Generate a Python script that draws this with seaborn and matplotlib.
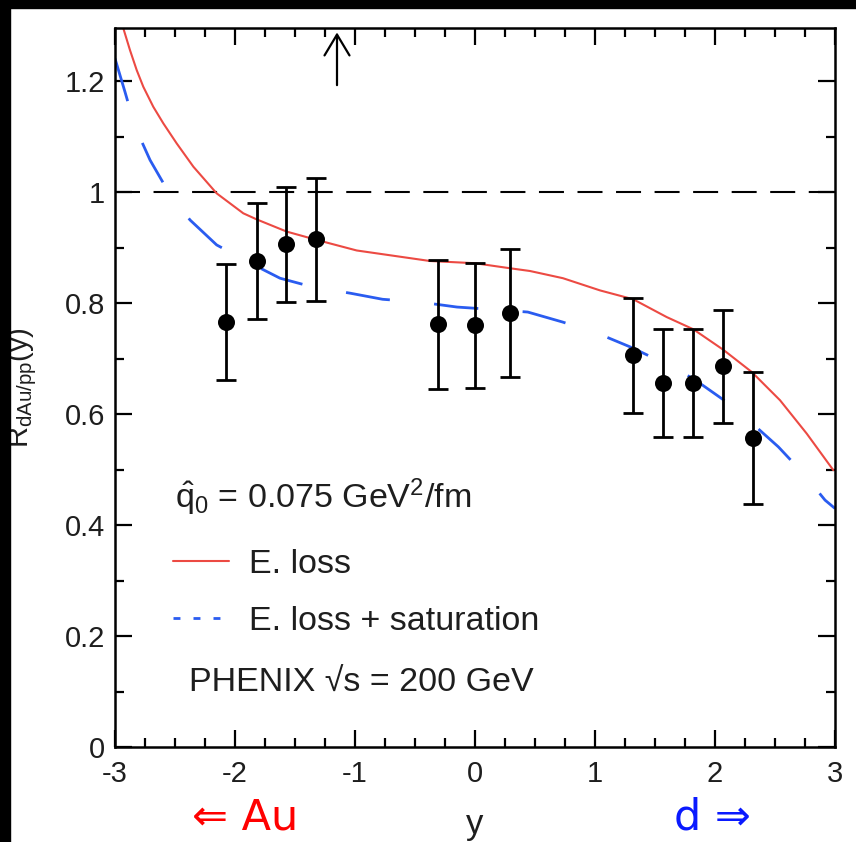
import numpy as np
import pandas as pd
import matplotlib
matplotlib.use("Agg")
import matplotlib.pyplot as plt
from matplotlib.lines import Line2D
from matplotlib.patches import Rectangle
import seaborn as sns

# ---- data ----
data_y = [-2.075, -1.817, -1.575, -1.325, -0.308, 0.0, 0.292, 1.317, 1.567, 1.817, 2.067, 2.317]
data_R = [0.766, 0.876, 0.906, 0.915, 0.762, 0.760, 0.782, 0.706, 0.656, 0.656, 0.686, 0.557]
data_err = [0.105, 0.105, 0.104, 0.111, 0.116, 0.112, 0.115, 0.104, 0.097, 0.097, 0.102, 0.119]

eloss_y = [-2.93, -2.875, -2.819, -2.764, -2.681, -2.597, -2.486, -2.347, -2.153, -1.931, -1.819,
           -1.569, -1.319, -0.986, -0.375, 0.0, 0.29, 0.458, 0.733, 1.042, 1.319, 1.597, 1.819,
           2.069, 2.306, 2.542, 2.764, 2.986]
eloss_R = [1.295, 1.256, 1.220, 1.190, 1.154, 1.124, 1.088, 1.046, 0.998, 0.962, 0.951,
           0.929, 0.914, 0.895, 0.876, 0.872, 0.863, 0.858, 0.845, 0.823, 0.807, 0.775, 0.753,
           0.716, 0.676, 0.625, 0.565, 0.499]

sat_y = [-3.0, -2.917, -2.833, -2.708, -2.556, -2.375, -2.153, -1.889, -1.625, -1.35, -1.04, -0.77,
         -0.46, -0.15, 0.125, 0.44, 0.73, 1.017, 1.306, 1.556, 1.819, 2.069, 2.306, 2.528, 2.736,
         2.917, 3.0]
sat_R = [1.241, 1.181, 1.118, 1.058, 1.001, 0.950, 0.905, 0.874, 0.845, 0.829, 0.818, 0.807,
         0.802, 0.793, 0.789, 0.784, 0.766, 0.746, 0.720, 0.694, 0.664, 0.626, 0.584, 0.541, 0.493,
         0.445, 0.43]

ref_level = 1.0
arrow_x = -1.15
arrow_from, arrow_to = 1.193, 1.288

x_ticks = [-3, -2, -1, 0, 1, 2, 3]
y_ticks = [0, 0.2, 0.4, 0.6, 0.8, 1.0, 1.2]
y_tick_labels = ["0", "0.2", "0.4", "0.6", "0.8", "1", "1.2"]

label_eloss = "E. loss"
label_sat = "E. loss + saturation"

# ---- style ----
sns.set_theme(style="ticks")
plt.rcParams["font.family"] = ["Liberation Sans", "DejaVu Sans"]
plt.rcParams["mathtext.fontset"] = "custom"
plt.rcParams["mathtext.rm"] = "Liberation Sans"
plt.rcParams["mathtext.it"] = "Liberation Sans:italic"
plt.rcParams["mathtext.bf"] = "Liberation Sans:bold"

TXT = "#1e1e1e"
RED = "#ec4a43"
BLUE = "#2a5cf0"

fig = plt.figure(figsize=(8.56, 8.42), dpi=100)
fig.patch.set_facecolor("white")
# black strips of the reference screenshot
fig.patches.append(Rectangle((0, 0), 10 / 856, 1, transform=fig.transFigure, color="black", zorder=0))
fig.patches.append(Rectangle((0, 1 - 8 / 842), 1, 8 / 842, transform=fig.transFigure, color="black", zorder=0))

ax = fig.add_axes([115 / 856, 1 - 747 / 842, 720 / 856, 719 / 842])
ax.set_facecolor("white")

df_e = pd.DataFrame({"y": eloss_y, "R": eloss_R})
df_s = pd.DataFrame({"y": sat_y, "R": sat_R})
df_d = pd.DataFrame({"y": data_y, "R": data_R, "err": data_err})

ax.axhline(ref_level, color="black", lw=1.5, dashes=(12, 6.5), zorder=1)

sns.lineplot(data=df_e, x="y", y="R", sort=False, estimator=None, color=RED, lw=1.5, ax=ax, zorder=2)
sns.lineplot(data=df_s, x="y", y="R", sort=False, estimator=None, color=BLUE, lw=2.0,
             dashes=False, ax=ax, zorder=2)
ax.lines[-1].set_dashes((16, 16))
ax.lines[-1].set_solid_capstyle("butt")

ax.errorbar(df_d["y"], df_d["R"], yerr=df_d["err"], fmt="none", ecolor="black",
            elinewidth=2, capsize=7.5, capthick=2, zorder=3)
sns.scatterplot(data=df_d, x="y", y="R", color="black", s=150, edgecolor="black", linewidth=0,
                ax=ax, zorder=4)

ax.annotate("", xy=(arrow_x, arrow_to), xytext=(arrow_x, arrow_from),
            arrowprops=dict(arrowstyle="->,head_length=0.5,head_width=0.3", lw=1.6, color="black",
                            mutation_scale=30, shrinkA=0, shrinkB=0))

ax.set_xlim(-3, 3)
ax.set_ylim(0, 1.296)
ax.set_xticks(x_ticks)
ax.set_xticklabels([str(t) for t in x_ticks])
ax.set_yticks(y_ticks)
ax.set_yticklabels(y_tick_labels)
ax.set_xticks(np.arange(-3, 3.01, 0.25), minor=True)
ax.set_yticks(np.arange(0, 1.3, 0.1), minor=True)
ax.tick_params(which="both", direction="in", top=True, right=True, colors="black",
               labelcolor=TXT, labelsize=21, width=1.6)
ax.tick_params(which="major", length=12)
ax.tick_params(which="minor", length=6.5)
ax.tick_params(axis="y", pad=7)
ax.tick_params(axis="x", pad=9)
for sp in ax.spines.values():
    sp.set_visible(True)
    sp.set_linewidth(1.8)
    sp.set_color("black")

ax.set_xlabel("y", fontsize=25, color=TXT, labelpad=15)
ax.set_ylabel(r"R$_{\mathrm{dAu/pp}}$(y)", fontsize=21, color=TXT)
ax.yaxis.set_label_coords(-0.105, 0.5)

# annotations inside the axes
ax.text(0.0833, 0.332, r"$\hat{\mathrm{q}}_{0}$ = 0.075 GeV$^{2}$/fm", transform=ax.transAxes,
        fontsize=24.5, color=TXT, ha="left", va="baseline")
ax.text(0.1028, 0.0765, "PHENIX \u221as = 200 GeV", transform=ax.transAxes,
        fontsize=24.5, color=TXT, ha="left", va="baseline")

handles = [Line2D([], [], color=RED, lw=1.5),
           Line2D([], [], color=BLUE, lw=2.0, dashes=(2.5, 4.7))]
leg = ax.legend(handles, [label_eloss, label_sat], loc="center left",
                bbox_to_anchor=(0.0806, 0.214), frameon=False, fontsize=24.5,
                handlelength=1.65, handletextpad=0.58, labelspacing=0.78,
                borderpad=0, borderaxespad=0)
for t in leg.get_texts():
    t.set_color(TXT)

# beam direction labels under the axis
fig.text(245 / 856, 1 - 818 / 842, "\u21d0 Au", color="#ff0000", fontsize=31,
         ha="center", va="center", family=["DejaVu Sans"])
fig.text(712 / 856, 1 - 818 / 842, "d \u21d2", color="#0a1aff", fontsize=31,
         ha="center", va="center", family=["DejaVu Sans"])

fig.savefig("out.png", dpi=100, facecolor=fig.get_facecolor())
